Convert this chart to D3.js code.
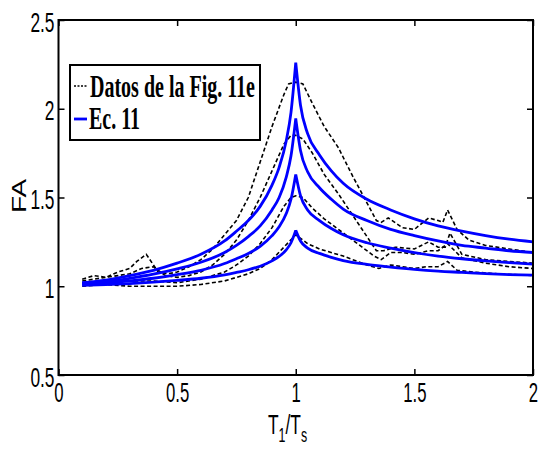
<!DOCTYPE html>
<html>
<head>
<meta charset="utf-8">
<script src="https://cdn.jsdelivr.net/npm/d3@7"></script>
<style>
  html, body { margin: 0; padding: 0; background: #fff; }
  svg { display: block; }
</style>
</head>
<body>
<svg id="chart" width="539" height="449"></svg>
<script>
// ---- data ----
const xTicks = [0, 0.5, 1, 1.5, 2];
const yTicks = [0.5, 1, 1.5, 2, 2.5];
const xTickLabels = ["0", "0.5", "1", "1.5", "2"];
const yTickLabels = ["0.5", "1", "1.5", "2", "2.5"];

const legendLabels = ["Datos de la Fig. 11e", "Ec. 11"];

// Ec. 11 curves (blue)
const ecX = [0.1,0.2,0.3,0.4,0.5,0.6,0.7,0.75,0.8,0.85,0.9,0.93,0.96,0.98,1.0,1.02,1.05,1.1,1.15,1.2,1.3,1.4,1.5,1.6,1.7,1.8,1.9,2.0];
const ecA = [1.02,1.035,1.06,1.09,1.13,1.18,1.255,1.31,1.37,1.45,1.57,1.67,1.82,1.98,2.26,2.02,1.86,1.74,1.65,1.58,1.49,1.43,1.38,1.34,1.31,1.285,1.265,1.25];
const ecB = [1.015,1.026,1.045,1.068,1.098,1.135,1.19,1.23,1.28,1.34,1.43,1.50,1.615,1.735,1.945,1.765,1.645,1.555,1.49,1.435,1.37,1.32,1.285,1.255,1.23,1.215,1.2,1.19];
const ecC = [1.01,1.018,1.03,1.045,1.065,1.09,1.128,1.155,1.185,1.225,1.285,1.335,1.41,1.49,1.63,1.51,1.43,1.37,1.325,1.29,1.245,1.215,1.19,1.17,1.155,1.143,1.133,1.125];
const ecD = [1.005,1.009,1.015,1.023,1.033,1.045,1.064,1.078,1.093,1.113,1.143,1.168,1.205,1.245,1.315,1.255,1.215,1.185,1.163,1.145,1.123,1.108,1.095,1.085,1.078,1.071,1.066,1.063];

// Data from Fig. 11e (black dashed)
const d1X = [0.1,0.15,0.2,0.25,0.3,0.33,0.37,0.42,0.46,0.5,0.55,0.6,0.65,0.7,0.75,0.8,0.85,0.9,0.95,0.97,1.0,1.03,1.07,1.12,1.18,1.24,1.3,1.34,1.36,1.39,1.45,1.5,1.56,1.6,1.62,1.64,1.68,1.73,1.8,1.9,2.0];
const d1Y = [1.04,1.06,1.05,1.08,1.1,1.14,1.18,1.08,1.07,1.08,1.11,1.15,1.21,1.29,1.37,1.5,1.7,1.9,2.08,2.14,2.15,2.14,2.03,1.9,1.78,1.62,1.47,1.37,1.36,1.385,1.33,1.32,1.385,1.37,1.36,1.43,1.32,1.26,1.23,1.21,1.19];
const d2X = [0.1,0.15,0.2,0.25,0.3,0.35,0.4,0.45,0.5,0.55,0.6,0.65,0.7,0.75,0.8,0.85,0.9,0.95,0.98,1.0,1.03,1.07,1.12,1.18,1.24,1.3,1.34,1.37,1.42,1.5,1.56,1.6,1.63,1.65,1.7,1.8,1.9,2.0];
const d2Y = [1.03,1.04,1.05,1.06,1.07,1.1,1.11,1.06,1.05,1.06,1.08,1.12,1.18,1.26,1.37,1.5,1.65,1.8,1.85,1.85,1.83,1.75,1.63,1.52,1.4,1.28,1.2,1.2,1.22,1.21,1.25,1.22,1.22,1.3,1.18,1.15,1.14,1.13];
const d3X = [0.1,0.2,0.3,0.4,0.5,0.6,0.7,0.75,0.8,0.85,0.9,0.95,0.98,1.0,1.03,1.07,1.12,1.2,1.28,1.33,1.36,1.4,1.45,1.5,1.56,1.6,1.64,1.7,1.8,1.9,2.0];
const d3Y = [1.02,1.03,1.03,1.03,1.02,1.04,1.08,1.12,1.17,1.24,1.33,1.45,1.5,1.51,1.5,1.44,1.38,1.3,1.22,1.17,1.15,1.19,1.19,1.18,1.2,1.2,1.24,1.16,1.13,1.11,1.1];
const d4X = [0.1,0.2,0.3,0.4,0.5,0.6,0.7,0.8,0.85,0.9,0.95,1.0,1.05,1.1,1.2,1.3,1.35,1.4,1.45,1.5,1.55,1.6,1.64,1.68,1.75,1.85,2.0];
const d4Y = [1.0,1.01,1.0,1.0,1.0,1.01,1.03,1.07,1.1,1.15,1.22,1.29,1.24,1.21,1.17,1.12,1.1,1.12,1.11,1.1,1.11,1.11,1.14,1.09,1.08,1.07,1.06];

// ---- build ----
const svg = d3.select("#chart");
const L = 58.5, R = 533, T = 20, B = 375;
const x = d3.scaleLinear().domain([0, 2]).range([L, R]);
const y = d3.scaleLinear().domain([0.5, 2.5]).range([B, T]);

const zip = (xs, ys) => xs.map((v, i) => [v, ys[i]]);
const line = d3.line().x(d => x(d[0])).y(d => y(d[1]));
const smooth = d3.line().x(d => x(d[0])).y(d => y(d[1])).curve(d3.curveMonotoneX);

const g = svg.append("g");

// dashed data
[[d1X, d1Y], [d2X, d2Y], [d3X, d3Y], [d4X, d4Y]].forEach(([xs, ys]) => {
  g.append("path").datum(zip(xs, ys)).attr("d", line)
    .attr("fill", "none").attr("stroke", "#000").attr("stroke-width", 1.6)
    .attr("stroke-dasharray", "4,2.5");
});
// blue Ec.11 — smooth on each side of the cusp at T1/Ts = 1
[ecA, ecB, ecC, ecD].forEach(ys => {
  const pts = zip(ecX, ys);
  const left = pts.filter(p => p[0] <= 1), right = pts.filter(p => p[0] >= 1);
  const dStr = smooth(left) + smooth(right);
  g.append("path").attr("d", dStr)
    .attr("fill", "none").attr("stroke", "#0000ff").attr("stroke-width", 2.8)
    .attr("stroke-linejoin", "miter");
});

// axes
const fontAxis = "'Liberation Sans', Arial, sans-serif";
const sx = 0.62;
const xAxis = d3.axisBottom(x).tickValues(xTicks).tickFormat((d, i) => xTickLabels[i])
  .tickSizeInner(-6).tickSizeOuter(0).tickPadding(8);
const gx = svg.append("g").attr("transform", `translate(0,${B})`).call(xAxis);
gx.selectAll("text").attr("font-family", fontAxis).attr("font-size", 27).attr("fill", "#000")
  .attr("transform", `scale(${sx},1)`).attr("x", 0);

const yAxis = d3.axisLeft(y).tickValues(yTicks).tickFormat((d, i) => yTickLabels[i])
  .tickSizeInner(-6).tickSizeOuter(0).tickPadding(4);
const gy = svg.append("g").attr("transform", `translate(${L},0)`).call(yAxis);
gy.selectAll("text").attr("font-family", fontAxis).attr("font-size", 28).attr("fill", "#000")
  .attr("x", -4 / sx).attr("dy", "0.4em").attr("transform", `scale(${sx},1)`);

// mirror ticks top & right
const xTop = d3.axisTop(x).tickValues(xTicks).tickFormat("").tickSizeInner(-6).tickSizeOuter(0);
svg.append("g").attr("transform", `translate(0,${T})`).call(xTop);
const yRight = d3.axisRight(y).tickValues(yTicks).tickFormat("").tickSizeInner(-6).tickSizeOuter(0);
svg.append("g").attr("transform", `translate(${R},0)`).call(yRight);

svg.selectAll(".domain").remove();
svg.selectAll(".tick line").attr("stroke", "#000").attr("stroke-width", 1.5);

// frame
svg.append("rect").attr("x", L).attr("y", T).attr("width", R - L).attr("height", B - T)
  .attr("fill", "none").attr("stroke", "#000").attr("stroke-width", 2);

// axis labels
const xl = svg.append("text").attr("font-family", fontAxis).attr("font-size", 28).attr("fill", "#000")
  .attr("transform", `translate(268,434) scale(${sx},1)`);
xl.append("tspan").text("T");
xl.append("tspan").attr("font-size", 20).attr("dy", 8).text("1");
xl.append("tspan").attr("dy", -8).text("/T");
xl.append("tspan").attr("font-size", 20).attr("dy", 8).text("s");

svg.append("text").attr("font-family", fontAxis).attr("font-size", 28).attr("fill", "#000")
  .attr("text-anchor", "middle")
  .attr("transform", `translate(26,196) rotate(-90) scale(1,0.7)`).text("FA");

// legend
const lg = svg.append("g");
lg.append("rect").attr("x", 70).attr("y", 65).attr("width", 190).attr("height", 75)
  .attr("fill", "#fff").attr("stroke", "#000").attr("stroke-width", 2);
lg.append("line").attr("x1", 74).attr("x2", 87).attr("y1", 86).attr("y2", 86)
  .attr("stroke", "#000").attr("stroke-width", 1.4).attr("stroke-dasharray", "2,1.5");
lg.append("line").attr("x1", 74).attr("x2", 87).attr("y1", 119).attr("y2", 119)
  .attr("stroke", "#0000ff").attr("stroke-width", 2.8);
const fontLeg = "'Liberation Serif', 'Times New Roman', serif";
lg.append("text").attr("x", 90).attr("y", 97).attr("font-family", fontLeg).attr("font-weight", "bold")
  .attr("font-size", 31).attr("textLength", 165).attr("lengthAdjust", "spacingAndGlyphs").text(legendLabels[0]);
lg.append("text").attr("x", 89).attr("y", 129).attr("font-family", fontLeg).attr("font-weight", "bold")
  .attr("font-size", 31).attr("textLength", 51).attr("lengthAdjust", "spacingAndGlyphs").text(legendLabels[1]);
</script>
</body>
</html>
